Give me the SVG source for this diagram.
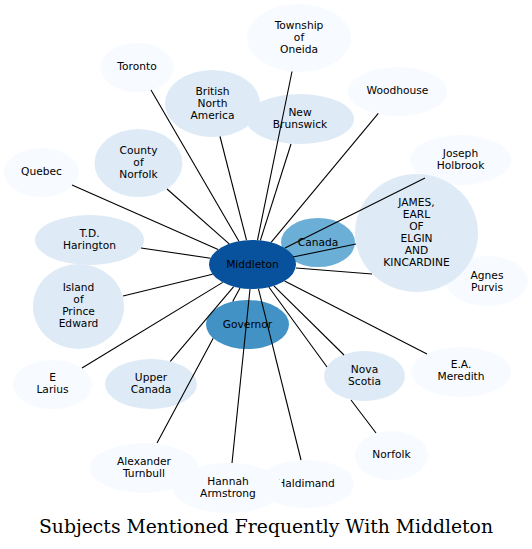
<svg xmlns="http://www.w3.org/2000/svg" width="532" height="549" viewBox="0 0 532 549">
<style>
.n text{font-family:"DejaVu Sans","Liberation Sans",sans-serif;font-size:10.67px;text-anchor:middle;fill:#000}
.l1{fill:#f7fbff}
.l2{fill:#deebf7}
.l3{fill:#6baed6}
.l4{fill:#4292c6}
.l5{fill:#08519c}
#edges path{stroke:#000;stroke-width:1.1;fill:none}
.title{font-family:"DejaVu Serif","Liberation Serif",serif;font-size:18px;text-anchor:middle;fill:#000}
</style>
<rect width="532" height="549" fill="#fff"/>
<g id="nodes">
<g id="n-oneida" class="n"><ellipse class="l1" cx="299" cy="38" rx="52" ry="34"/><text x="299" y="29">Township</text><text x="299" y="41">of</text><text x="299" y="53">Oneida</text></g>
<g id="n-toronto" class="n"><ellipse class="l1" cx="137" cy="67.5" rx="36.5" ry="24.5"/><text x="137" y="70">Toronto</text></g>
<g id="n-woodhouse" class="n"><ellipse class="l1" cx="397.5" cy="91.5" rx="49.5" ry="24.5"/><text x="397.5" y="94">Woodhouse</text></g>
<g id="n-bna" class="n"><ellipse class="l2" cx="212.5" cy="103.5" rx="47.5" ry="33.5"/><text x="212.5" y="95">British</text><text x="212.5" y="107">North</text><text x="212.5" y="119">America</text></g>
<g id="n-newbrunswick" class="n"><ellipse class="l2" cx="300" cy="119" rx="54" ry="25"/><text x="300" y="116">New</text><text x="300" y="128">Brunswick</text></g>
<g id="n-holbrook" class="n"><ellipse class="l1" cx="460.5" cy="160" rx="50.5" ry="25"/><text x="460.5" y="157">Joseph</text><text x="460.5" y="169">Holbrook</text></g>
<g id="n-quebec" class="n"><ellipse class="l1" cx="41.5" cy="172.5" rx="37.5" ry="24.5"/><text x="41.5" y="175">Quebec</text></g>
<g id="n-countynorfolk" class="n"><ellipse class="l2" cx="138.5" cy="163" rx="44" ry="34"/><text x="138.5" y="154">County</text><text x="138.5" y="166">of</text><text x="138.5" y="178">Norfolk</text></g>
<g id="n-agnes" class="n"><ellipse class="l1" cx="487" cy="281" rx="41" ry="25"/><text x="487" y="279">Agnes</text><text x="487" y="291">Purvis</text></g>
<g id="n-james" class="n"><ellipse class="l2" cx="416.5" cy="233" rx="61.5" ry="59"/><text x="416.5" y="206">JAMES,</text><text x="416.5" y="218">EARL</text><text x="416.5" y="230">OF</text><text x="416.5" y="242">ELGIN</text><text x="416.5" y="254">AND</text><text x="416.5" y="266">KINCARDINE</text></g>
<g id="n-harington" class="n"><ellipse class="l2" cx="89.5" cy="240" rx="54.5" ry="25"/><text x="89.5" y="237">T.D.</text><text x="89.5" y="249">Harington</text></g>
<g id="n-ipe" class="n"><ellipse class="l2" cx="78.5" cy="306.5" rx="45.5" ry="42.5"/><text x="78.5" y="291">Island</text><text x="78.5" y="303">of</text><text x="78.5" y="315">Prince</text><text x="78.5" y="327">Edward</text></g>
<g id="n-canada" class="n"><ellipse class="l3" cx="318" cy="242.5" rx="37" ry="24.5"/><text x="318" y="246">Canada</text></g>
<g id="n-middleton" class="n"><ellipse class="l5" cx="252.5" cy="264.5" rx="43.5" ry="24.5"/><text x="252.5" y="268">Middleton</text></g>
<g id="n-governor" class="n"><ellipse class="l4" cx="247.5" cy="324.5" rx="41.5" ry="24.5"/><text x="247.5" y="328">Governor</text></g>
<g id="n-elarius" class="n"><ellipse class="l1" cx="52.5" cy="384.5" rx="39.5" ry="24.5"/><text x="52.5" y="381">E</text><text x="52.5" y="393">Larius</text></g>
<g id="n-uppercanada" class="n"><ellipse class="l2" cx="151" cy="384" rx="46" ry="25"/><text x="151" y="381">Upper</text><text x="151" y="393">Canada</text></g>
<g id="n-novascotia" class="n"><ellipse class="l2" cx="364.5" cy="376" rx="40.5" ry="25"/><text x="364.5" y="373">Nova</text><text x="364.5" y="385">Scotia</text></g>
<g id="n-meredith" class="n"><ellipse class="l1" cx="461" cy="372" rx="50" ry="25"/><text x="461" y="368">E.A.</text><text x="461" y="380">Meredith</text></g>
<g id="n-norfolk" class="n"><ellipse class="l1" cx="391.5" cy="455.5" rx="36.5" ry="24.5"/><text x="391.5" y="458">Norfolk</text></g>
<g id="n-turnbull" class="n"><ellipse class="l1" cx="144" cy="468" rx="54" ry="25"/><text x="144" y="465">Alexander</text><text x="144" y="477">Turnbull</text></g>
<g id="n-haldimand" class="n"><ellipse class="l1" cx="306" cy="484" rx="48" ry="24"/><text x="306" y="487">Haldimand</text></g>
<g id="n-hannah" class="n"><ellipse class="l1" cx="228" cy="488" rx="55" ry="25"/><text x="228" y="485">Hannah</text><text x="228" y="497">Armstrong</text></g>
</g>
<g id="edges">
<path d="M238.9,241.2L151,90"/>
<path d="M246.5,240.2L220,136.5"/>
<path d="M257.5,240.2L292,71.5"/>
<path d="M260.4,240.4L291,144"/>
<path d="M271.1,242.3L378.3,113.3"/>
<path d="M285,248L425,178"/>
<path d="M293,257L356,244"/>
<path d="M296,268L372,274"/>
<path d="M284.6,281L427,354"/>
<path d="M273.9,285.8L344,355"/>
<path d="M269,287.2L327,367M351,400L376,433"/>
<path d="M258.5,288.8L301,460"/>
<path d="M250,289L232,463"/>
<path d="M240,288L232.7,301.6M213.2,338.2L157,443"/>
<path d="M233.7,286.6L170.3,361.3"/>
<path d="M222.7,282.4L82,368"/>
<path d="M212.5,274.2L123,296"/>
<path d="M210.5,258.2L141,248"/>
<path d="M218.1,249.5L72,185"/>
<path d="M229.2,243.8L167,189"/>
</g>
<text class="title" x="266" y="533" textLength="454" lengthAdjust="spacingAndGlyphs">Subjects Mentioned Frequently With Middleton</text>
</svg>
